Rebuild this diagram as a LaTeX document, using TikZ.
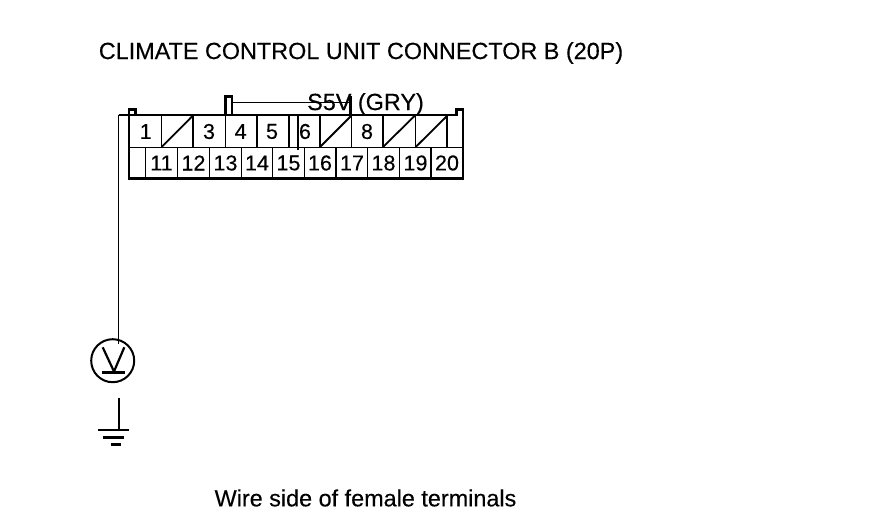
\documentclass[tikz,border=0pt]{standalone}
\usepackage{fontspec}
\setmainfont[FakeBold=0.25]{Liberation Sans}
\begin{document}
\begin{tikzpicture}[x=1pt,y=-1pt,
  thick line/.style={line width=2.6pt,black},
  thin line/.style={line width=1.2pt,black},
  med line/.style={line width=1.8pt,black},
  title text/.style={font=\fontsize{23.4}{26}\selectfont,inner sep=0pt,anchor=center},
  pin text/.style={font=\fontsize{21.5}{24}\selectfont,inner sep=0pt,anchor=center},
  meter/.style={circle,draw=black,line width=2pt,minimum size=43pt,inner sep=0pt}]
\useasboundingbox (0,0) rectangle (880,524);
\fill[white] (0,0) rectangle (880,524);
% texts
\node[title text] (title) at (361,53) {CLIMATE CONTROL UNIT CONNECTOR B (20P)};
\node[title text] (wirelabel) at (365.5,104) {S5V (GRY)};
\node[title text] (footer) at (365.5,498) {Wire side of female terminals};
% connector body
\draw[thin line] (129,147.5) -- (463,147.5);
\foreach \x in {161.7,193,225.7,257,289,320,351.7,383,415.7,447}
  \draw[thin line] (\x,115) -- (\x,147.5);
\foreach \x in {145.7,177.5,209.5,241.5,272.7,304.3,336,367.7,399.7,431}
  \draw[thin line] (\x,147.5) -- (\x,178.5);
\foreach \x/\xx in {161.7/192.5,320/351,383/414.5,415.7/447}
  \draw[med line] (\x,147) -- (\xx,116);
\draw[thick line] (118.5,115) -- (129,115) (129,115) -- (129,109.5) -- (135.5,109.5) -- (135.5,115)
  (129,115) -- (129,178.5) -- (463,178.5) -- (463,109.5) -- (456.5,109.5) -- (456.5,115) -- (129,115);
\draw[thick line] (225.5,115) -- (225.5,96.5) -- (232,96.5) -- (232,115);
\draw[med line] (232,102.5) -- (350.7,102.5);
\draw[thick line] (350.7,96) -- (350.7,115);
\draw[med line] (297.7,115) -- (297.7,150);
% pin numbers
\foreach \x/\t/\n in {145.7/1/p1,209/3/p3,240.7/4/p4,272/5/p5,305/6/p6,367/8/p8}
  \node[pin text] (\n) at (\x,131.5) {\t};
\foreach \x/\t in {161.5/11,193.5/12,225.5/13,257/14,288.5/15,320/16,352/17,383.5/18,415.5/19,447/20}
  \node[pin text] (q\t) at (\x,163) {\t};
% meter and ground
\node[meter] (vm) at (112.7,360.7) {};
\coordinate (wiretop) at (118.5,115);
\draw[med line] (wiretop) -- (118.5,343.5);
\draw[med line,line width=2.2pt] (102.7,347.3) -- (114,371.5) -- (124.3,347.3);
\draw[thick line] (101.7,372.5) -- (125,372.5);
\coordinate (gndtop) at (119,397.7);
\coordinate (gnd) at (119,430);
\draw[med line] (gndtop) -- (gnd);
\draw[thick line] (98,430) -- (128.7,430) (102.7,437.7) -- (124,437.7) (110.7,444.7) -- (121,444.7);
\end{tikzpicture}
\end{document}
